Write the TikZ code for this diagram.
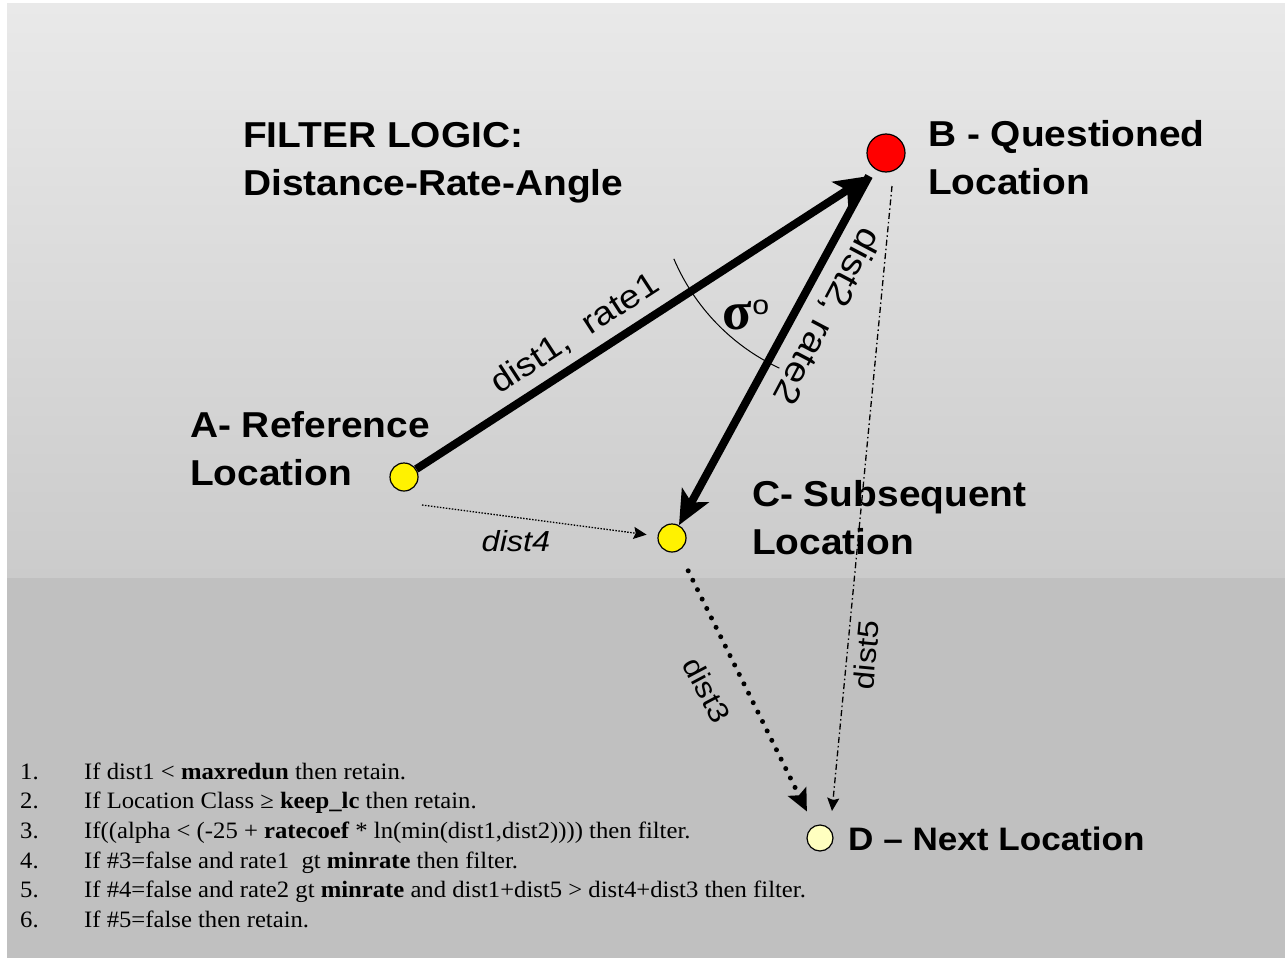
\documentclass[tikz,border=0pt]{standalone}
\usepackage{fontspec}
\setmainfont{Liberation Serif}[FakeStretch=1.05]
\newfontfamily\lblfont{Liberation Sans}[FakeStretch=1.08]
\newfontfamily\dfont{Liberation Sans}[FakeStretch=1.12]
\newfontfamily\sigfont{Liberation Serif}
\usetikzlibrary{arrows.meta}
\definecolor{bgtop}{HTML}{E9E9E9}
\definecolor{bgmid}{HTML}{CBCBCB}
\definecolor{bgbot}{HTML}{C0C0C0}
\definecolor{pale}{HTML}{FFFFC0}
\begin{document}
\begin{tikzpicture}[x=1pt,y=-1pt,
  loc/.style={circle,draw=black,line width=1.2pt,inner sep=0pt},
  bigtxt/.style={font=\lblfont\bfseries\fontsize{36}{48}\selectfont,align=left,inner sep=0pt},
  dlbl/.style={font=\dfont\fontsize{33}{33}\selectfont,inner sep=0pt},
  slbl/.style={font=\dfont\fontsize{29}{29}\selectfont,inner sep=0pt},
  thickarrow/.style={line width=8pt,-{Stealth[length=34pt,width=30pt,inset=8pt]}},
  fineline/.style={line width=1.3pt},
  smallhead/.style={-{Stealth[length=13pt,width=12pt,inset=2pt]}}
]
\useasboundingbox (0,0) rectangle (1285,958);
\fill[white] (0,0) rectangle (1285,958);
\shade[top color=bgtop,bottom color=bgmid] (7,4) rectangle (1285,578);
\fill[bgbot] (7,578) rectangle (1285,958);

% locations
\node[loc,fill=yellow,minimum size=28pt] (A) at (404,477) {};
\node[loc,fill=red,minimum size=38pt] (B) at (886,153) {};
\node[loc,fill=yellow,minimum size=28pt] (C) at (672,538) {};
\node[loc,fill=pale,minimum size=26pt] (D) at (820,838) {};

% labels (base = baseline of last line)
\node[bigtxt,anchor=base west] (title) at (243,195) {FILTER LOGIC:\\Distance-Rate-Angle};
\node[bigtxt,anchor=base west] (Blab) at (928,194) {B - Questioned\\Location};
\node[bigtxt,anchor=base west] (Alab) at (190,485) {A- Reference\\Location};
\node[bigtxt,anchor=base west] (Clab) at (752,554) {C- Subsequent\\Location};
\node[bigtxt,anchor=base west,font=\lblfont\bfseries\fontsize{32.5}{40}\selectfont] (Dlab) at (848,850) {D – Next Location};

% connectors
\coordinate (Bin) at (869,176);
\draw[thickarrow] (A) -- (Bin);
\draw[thickarrow] (Bin) -- (C);
\coordinate (d4s) at (422,505);
\draw[fineline,dash pattern=on 1.5pt off 1.5pt,smallhead,shorten >=11pt] (d4s) -- (C);
\draw[line width=5pt,line cap=round,dash pattern=on 0pt off 10.5pt,
      -{Stealth[length=22pt,width=20pt,inset=4pt,line cap=butt]},shorten <=22pt,shorten >=16pt] (C) -- (D);
\coordinate (b5s) at (892,186);
\coordinate (b5e) at (832,811);
\draw[fineline,dash pattern=on 6pt off 3pt on 1.5pt off 3pt,smallhead] (b5s) -- (b5e);

% angle arc
\draw[line width=1pt] (Bin) ++(157:212) arc[start angle=157,end angle=115,radius=212];
\node[font=\sigfont\bfseries\fontsize{54}{54}\selectfont,inner sep=0pt] (sig) at (746,315) {σ\raisebox{15pt}{\dfont\mdseries\fontsize{27}{27}\selectfont o}};

% edge labels
\node[dlbl,rotate=33] (l1) at (575,334) {dist1,\ \ rate1};
\node[dlbl,font=\dfont\fontsize{35}{35}\selectfont,rotate=242.2] (l2) at (827,316) {dist2, rate2};
\node[slbl,font=\dfont\itshape\fontsize{29}{29}\selectfont] (l4) at (516,541) {dist4};
\node[slbl,rotate=-62] (l3) at (707,690) {dist3};
\node[slbl,rotate=84.5] (l5) at (866,655) {dist5};

% rules
\node[anchor=north west,inner sep=0pt,font=\fontsize{23.5}{29.6}\selectfont] (rules) at (20,758.4) {%
\begin{tabular}{@{}p{64pt}@{}l@{}}
1. & If dist1 < \textbf{maxredun} then retain.\\
2. & If Location Class ≥ \textbf{keep\_lc} then retain.\\
3. & If((alpha < (-25 + \textbf{ratecoef} * ln(min(dist1,dist2)))) then filter.\\
4. & If \#3=false and rate1 \ gt \textbf{minrate} then filter.\\
5. & If \#4=false and rate2 gt \textbf{minrate} and dist1+dist5 > dist4+dist3 then filter.\\
6. & If \#5=false then retain.
\end{tabular}};
\end{tikzpicture}
\end{document}
